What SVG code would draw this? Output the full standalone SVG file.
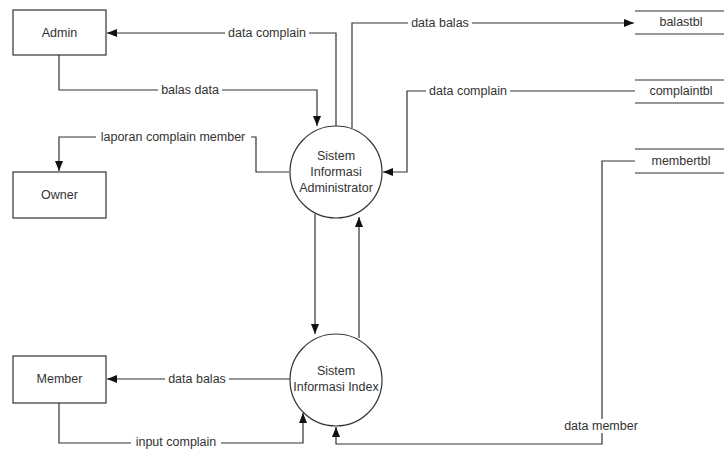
<svg xmlns="http://www.w3.org/2000/svg" width="724" height="450" viewBox="0 0 724 450">
<defs>
<style>
text{font-family:"Liberation Sans",Arial,sans-serif;font-size:12.5px;fill:#333;text-anchor:middle;dominant-baseline:central}
.box{fill:#fff;stroke:#333;stroke-width:1.2}
.ln{fill:none;stroke:#333;stroke-width:1.2}
.bg{fill:#fff}
</style>
<marker id="ah" markerUnits="userSpaceOnUse" markerWidth="10" markerHeight="10" viewBox="0 0 10 10" refX="10" refY="5" orient="auto">
<path d="M0,1 L10,5 L0,9 Z" fill="#111"/>
</marker>
</defs>
<rect width="724" height="450" fill="#fff"/>
<g id="connectors">
<path class="ln" d="M336,126 V33 H107" marker-end="url(#ah)"/>
<rect class="bg" x="225" y="26" width="84" height="14"/>
<text x="267" y="33">data complain</text>
<path class="ln" d="M59,55 V90 H317 V126" marker-end="url(#ah)"/>
<rect class="bg" x="158" y="83" width="64" height="14"/>
<text x="190" y="90">balas data</text>
<path class="ln" d="M289,172 H256 V137 H59 V171" marker-end="url(#ah)"/>
<rect class="bg" x="96" y="130" width="155" height="14"/>
<text x="173" y="137">laporan complain member</text>
<path class="ln" d="M352,128 V23 H634" marker-end="url(#ah)"/>
<rect class="bg" x="408" y="16" width="64" height="14"/>
<text x="440" y="23">data balas</text>
<path class="ln" d="M635,91 H407 V172 H383" marker-end="url(#ah)"/>
<rect class="bg" x="426" y="84" width="84" height="14"/>
<text x="468" y="91">data complain</text>
<path class="ln" d="M635,161 H602 V444 H336 V427" marker-end="url(#ah)"/>
<rect class="bg" x="560" y="419" width="84" height="14"/>
<text x="601" y="426">data member</text>
<path class="ln" d="M315,214 V334" marker-end="url(#ah)"/>
<path class="ln" d="M359,338 V217" marker-end="url(#ah)"/>
<path class="ln" d="M290,379 H107" marker-end="url(#ah)"/>
<rect class="bg" x="165" y="372" width="64" height="14"/>
<text x="197" y="379">data balas</text>
<path class="ln" d="M59,403 V443 H303 V413" marker-end="url(#ah)"/>
<rect class="bg" x="131" y="436" width="90" height="14"/>
<text x="176" y="442">input complain</text>
</g>
<g id="admin"><rect class="box" x="13" y="10" width="93" height="45"/><text x="59.5" y="33">Admin</text></g>
<g id="owner"><rect class="box" x="13" y="172" width="93" height="46"/><text x="59.5" y="195">Owner</text></g>
<g id="member"><rect class="box" x="13" y="356" width="93" height="47"/><text x="59.5" y="379">Member</text></g>
<g id="sia"><circle class="box" cx="336" cy="172" r="46"/><text x="336" y="156">Sistem</text><text x="336" y="172">Informasi</text><text x="336" y="188">Administrator</text></g>
<g id="sii"><circle class="box" cx="336" cy="380" r="46"/><text x="336" y="371">Sistem</text><text x="336" y="387">Informasi Index</text></g>
<g id="balastbl"><path class="ln" d="M635,11 H724 M635,34 H724"/><text x="681" y="22">balastbl</text></g>
<g id="complaintbl"><path class="ln" d="M635,80 H724 M635,103 H724"/><text x="681" y="91">complaintbl</text></g>
<g id="membertbl"><path class="ln" d="M635,149 H724 M635,173 H724"/><text x="681" y="161">membertbl</text></g>
</svg>
